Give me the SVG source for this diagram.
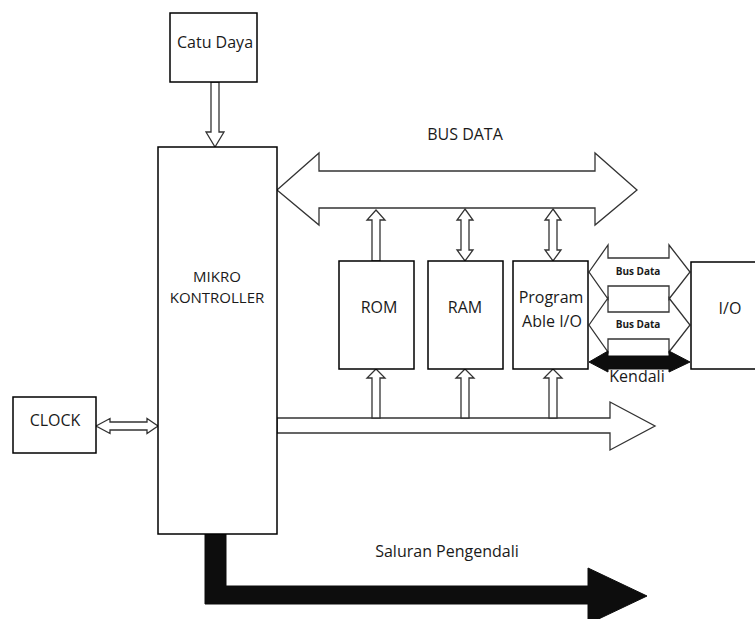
<svg xmlns="http://www.w3.org/2000/svg" width="755" height="619" viewBox="0 0 755 619">
<style>
.box{fill:#fff;stroke:#000;stroke-width:1.5}
.hollow{fill:#fff;stroke:#333;stroke-width:1.3;stroke-linejoin:miter}
.solid{fill:#0d0d0d;stroke:#0d0d0d;stroke-width:1}
text{font-family:"Open Sans","Liberation Sans",sans-serif;font-size:16px;fill:#1a1a1a;text-anchor:middle}
.mk{font-size:15px}
.small{font-size:10px;font-weight:bold}
</style>
<rect width="755" height="619" fill="#fff"/>
<g id="connectors">
  <polygon class="hollow" points="211,82 219,82 219,132 224,132 215,147 206,132 211,132"/>
  <polygon class="hollow" points="277,190 319,153 319,171 595,171 595,153 637,190 595,225 595,208 319,208 319,225"/>
  <polygon class="hollow" points="376,210 385,220 380,220 380,261 372,261 372,220 367,220"/>
  <polygon class="hollow" points="465,209 473,220 469,220 469,250 473,250 465,261 457,250 461,250 461,220 457,220"/>
  <polygon class="hollow" points="553,209 561,220 557,220 557,250 561,250 553,261 545,250 549,250 549,220 545,220"/>
  <polygon class="hollow" points="277,418 610,418 610,402 655,426 610,450 610,433 277,433"/>
  <polygon class="hollow" points="376,369 385,378 380,378 380,418 372,418 372,378 367,378"/>
  <polygon class="hollow" points="465,369 474,378 469,378 469,418 461,418 461,378 456,378"/>
  <polygon class="hollow" points="553,369 562,378 557,378 557,418 549,418 549,378 544,378"/>
  <polygon class="hollow" points="96,426 110,418.5 110,422 147,422 147,418.5 158,426 147,433.5 147,430 110,430 110,433.5"/>
  <polygon class="hollow" points="589,272 608,245 608,258 669,258 669,245 690,272 669,299 669,286 608,286 608,299"/>
  <polygon class="hollow" points="589,325 608,298 608,312 669,312 669,298 690,325 669,352 669,339 608,339 608,352"/>
  <polygon class="solid" points="589,362 608,351 608,356 669,356 669,351 690,362 669,372 669,369 608,369 608,372"/>
  <polygon class="solid" points="205,534 226,534 226,586 588,586 588,568 647,596 588,624 588,604 205,604"/>
  <text class="small" x="638" y="275">Bus Data</text>
  <text class="small" x="638" y="328">Bus Data</text>
  <text x="637" y="382">Kendali</text>
  <text x="465" y="140">BUS DATA</text>
  <text x="447" y="557">Saluran Pengendali</text>
</g>
<g id="catu-daya">
  <rect class="box" x="170" y="13" width="87" height="69"/>
  <text x="215" y="48">Catu Daya</text>
</g>
<g id="mikro-kontroller">
  <rect class="box" x="158" y="147" width="119" height="387"/>
  <text class="mk" x="217" y="282">MIKRO</text>
  <text class="mk" x="217" y="303">KONTROLLER</text>
</g>
<g id="rom">
  <rect class="box" x="339" y="261" width="75" height="108"/>
  <text x="379" y="313">ROM</text>
</g>
<g id="ram">
  <rect class="box" x="428" y="261" width="75" height="108"/>
  <text x="465" y="313">RAM</text>
</g>
<g id="programable-io">
  <rect class="box" x="513" y="261" width="75" height="108"/>
  <text x="551" y="303">Program</text>
  <text x="552" y="327">Able I/O</text>
</g>
<g id="io">
  <rect class="box" x="691" y="262" width="80" height="107"/>
  <text x="730" y="314">I/O</text>
</g>
<g id="clock">
  <rect class="box" x="13" y="397" width="83" height="56"/>
  <text x="55" y="426">CLOCK</text>
</g>
</svg>
